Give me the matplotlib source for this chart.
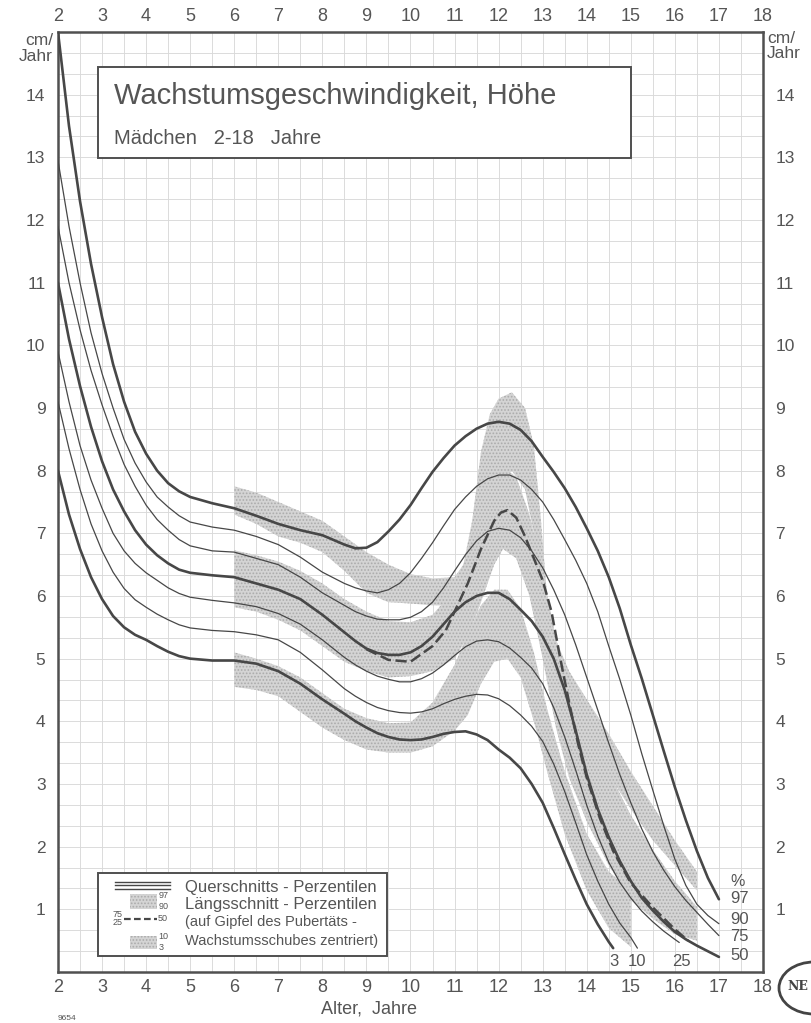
import numpy as np
import matplotlib
matplotlib.use("Agg")
import matplotlib.pyplot as plt
from matplotlib.patches import Rectangle, Ellipse

# Querschnitts-Perzentilen (cm/Jahr)
AGES = [2, 2.25, 2.5, 2.75, 3, 3.25, 3.5, 3.75, 4, 4.25, 4.5, 4.75, 5, 5.5, 6, 6.5, 7,
        7.5, 8, 8.5, 8.75, 9, 9.25, 9.5, 9.75, 10, 10.25, 10.5, 10.75, 11, 11.25, 11.5,
        11.75, 12, 12.25, 12.5, 12.75, 13, 13.25, 13.5, 13.75, 14, 14.25, 14.5, 14.75,
        15, 15.25, 15.5, 15.75, 16, 16.25, 16.5, 16.75, 17]

p97 = [15.0, 13.5, 12.3, 11.3, 10.45, 9.7, 9.1, 8.62, 8.27, 8.0, 7.8, 7.67, 7.58, 7.48,
       7.4, 7.28, 7.15, 7.05, 6.97, 6.82, 6.76, 6.77, 6.86, 7.03, 7.22, 7.45, 7.72, 7.98,
       8.2, 8.4, 8.55, 8.67, 8.75, 8.78, 8.75, 8.65, 8.47, 8.22, 7.98, 7.72, 7.42, 7.08,
       6.72, 6.3, 5.8, 5.22, 4.68, 4.1, 3.52, 2.95, 2.42, 1.93, 1.5, 1.16]
p90 = [12.95, 11.9, 11.0, 10.2, 9.55, 9.0, 8.5, 8.12, 7.82, 7.58, 7.42, 7.28, 7.18, 7.1,
       7.05, 6.95, 6.82, 6.62, 6.38, 6.2, 6.13, 6.08, 6.05, 6.1, 6.2, 6.37, 6.6, 6.85,
       7.12, 7.38, 7.58, 7.75, 7.87, 7.93, 7.93, 7.85, 7.7, 7.5, 7.22, 6.9, 6.57, 6.2,
       5.75, 5.2, 4.67, 4.1, 3.48, 2.9, 2.33, 1.8, 1.38, 1.08, 0.9, 0.77]
p75 = [11.9, 11.0, 10.25, 9.6, 9.05, 8.55, 8.1, 7.75, 7.45, 7.22, 7.05, 6.9, 6.8, 6.72,
       6.7, 6.6, 6.5, 6.3, 6.05, 5.85, 5.75, 5.68, 5.63, 5.62, 5.62, 5.66, 5.75, 5.9,
       6.13, 6.4, 6.66, 6.88, 7.03, 7.08, 7.05, 6.93, 6.72, 6.45, 6.1, 5.7, 5.22, 4.7,
       4.18, 3.65, 3.15, 2.7, 2.28, 1.92, 1.62, 1.36, 1.14, 0.95, 0.76, 0.58]
p50 = [11.0, 10.1, 9.35, 8.7, 8.15, 7.7, 7.35, 7.05, 6.82, 6.65, 6.52, 6.42, 6.37, 6.33,
       6.3, 6.2, 6.1, 5.95, 5.7, 5.42, 5.28, 5.16, 5.09, 5.06, 5.06, 5.1, 5.2, 5.35,
       5.55, 5.75, 5.9, 6.0, 6.05, 6.05, 5.95, 5.78, 5.6, 5.35, 5.0, 4.5, 3.85, 3.15,
       2.6, 2.15, 1.77, 1.45, 1.18, 0.98, 0.8, 0.64, 0.52, 0.42, 0.33, 0.24]
p25_end = (16.1, 0.47)
p25 = [9.9, 9.1, 8.4, 7.85, 7.4, 7.0, 6.72, 6.52, 6.37, 6.25, 6.13, 6.04, 5.98, 5.93,
       5.89, 5.83, 5.72, 5.55, 5.3, 5.02, 4.9, 4.8, 4.72, 4.67, 4.63, 4.63, 4.68, 4.77,
       4.9, 5.05, 5.19, 5.28, 5.3, 5.27, 5.17, 5.02, 4.85, 4.6, 4.22, 3.75, 3.22, 2.66,
       2.17, 1.75, 1.43, 1.18, 0.97, 0.8, 0.65, 0.52]
p10_end = (15.15, 0.38)
p10 = [9.1, 8.35, 7.7, 7.15, 6.72, 6.38, 6.12, 5.94, 5.82, 5.71, 5.62, 5.54, 5.49, 5.45,
       5.43, 5.38, 5.3, 5.1, 4.82, 4.52, 4.4, 4.3, 4.22, 4.17, 4.14, 4.13, 4.15, 4.2,
       4.28, 4.35, 4.4, 4.43, 4.42, 4.36, 4.25, 4.1, 3.92, 3.68, 3.32, 2.88, 2.38, 1.87,
       1.45, 1.08, 0.78, 0.55]
p3_end = (14.6, 0.38)
p3 = [8.0, 7.3, 6.75, 6.3, 5.95, 5.68, 5.5, 5.38, 5.3, 5.2, 5.11, 5.04, 5.0, 4.97, 4.97,
      4.92, 4.8, 4.6, 4.35, 4.12, 4.0, 3.9, 3.81, 3.75, 3.71, 3.7, 3.71, 3.75, 3.8, 3.83,
      3.84, 3.79, 3.7, 3.55, 3.42, 3.25, 3.0, 2.7, 2.3, 1.88, 1.47, 1.08, 0.76, 0.48]

# Laengsschnitt 50. Perzentile (gestrichelt)
long50_age = [9.0, 9.5, 10.0, 10.5, 10.8, 11.0, 11.3, 11.6, 11.9, 12.05, 12.2, 12.4, 12.6,
              12.8, 13.0, 13.2, 13.4, 13.6, 13.8, 14.0, 14.3, 14.6, 15.0, 15.5, 16.0, 16.3]
long50 = [5.15, 4.98, 4.95, 5.2, 5.45, 5.75, 6.2, 6.75, 7.2, 7.33, 7.37, 7.25, 6.95, 6.6,
          6.25, 5.75, 5.0, 4.3, 3.65, 3.1, 2.45, 1.93, 1.42, 1.03, 0.68, 0.5]

# Laengsschnitt-Baender (gepunktet): 97-90, 75-25, 10-3
band_hi_age = [6.0, 6.5, 7.0, 7.5, 8.0, 8.5, 9.0, 9.5, 10.0, 10.5, 11.0, 11.2, 11.4, 11.6,
               11.8, 12.0, 12.3, 12.6, 12.8, 12.95, 13.1, 13.3, 13.6, 14.0, 14.5, 15.0,
               15.5, 16.0, 16.5]
band_hi_top = [7.75, 7.65, 7.5, 7.35, 7.2, 6.95, 6.7, 6.5, 6.35, 6.28, 6.3, 6.5, 7.2, 8.3,
               8.9, 9.15, 9.25, 9.0, 8.4, 7.3, 6.0, 5.3, 4.8, 4.35, 3.8, 3.2, 2.65, 2.1, 1.6]
band_hi_bot = [7.3, 7.15, 6.95, 6.85, 6.7, 6.4, 6.05, 5.9, 5.88, 5.85, 5.85, 5.9, 6.1, 6.6,
               7.3, 7.8, 8.0, 7.7, 7.0, 6.0, 5.0, 4.5, 4.1, 3.7, 3.15, 2.6, 2.1, 1.7, 1.3]

band_mid_age = [6.0, 6.5, 7.0, 7.5, 8.0, 8.5, 9.0, 9.5, 10.0, 10.5, 11.0, 11.3, 11.6, 11.9,
                12.1, 12.4, 12.7, 13.0, 13.3, 13.6, 14.0, 14.5, 15.0, 15.5, 16.0, 16.5]
band_mid_top = [6.73, 6.65, 6.55, 6.4, 6.2, 5.95, 5.75, 5.6, 5.58, 5.7, 6.1, 6.7, 7.4, 7.95,
                8.06, 7.9, 7.3, 6.4, 5.3, 4.6, 3.95, 3.2, 2.5, 1.95, 1.45, 1.04]
band_mid_bot = [5.82, 5.75, 5.62, 5.45, 5.2, 4.95, 4.8, 4.7, 4.72, 4.8, 5.0, 5.35, 5.9, 6.5,
                6.75, 6.6, 6.0, 5.0, 3.9, 3.1, 2.4, 1.7, 1.15, 0.85, 0.6, 0.5]

band_lo_age = [6.0, 6.5, 7.0, 7.5, 8.0, 8.5, 9.0, 9.5, 10.0, 10.5, 11.0, 11.3, 11.6, 11.9,
               12.2, 12.5, 12.8, 13.1, 13.5, 14.0, 14.5, 15.0]
band_lo_top = [5.1, 5.0, 4.88, 4.7, 4.45, 4.2, 4.05, 3.97, 3.98, 4.3, 4.9, 5.4, 5.85, 6.1,
               6.1, 5.8, 5.1, 4.2, 3.2, 2.2, 1.6, 1.3]
band_lo_bot = [4.55, 4.5, 4.4, 4.15, 3.9, 3.7, 3.55, 3.5, 3.5, 3.6, 3.85, 4.1, 4.6, 4.95,
               5.0, 4.7, 4.0, 3.2, 2.2, 1.3, 0.7, 0.4]

X_TICKS = list(range(2, 19))
Y_TICKS = list(range(1, 15))

INK = '#474747'
TXT = '#555555'
GRID = '#d9d9d9'
STIPPLE = '#d4d4d4'
DOTS = '#ababab'

plt.rcParams['font.family'] = ['Liberation Sans', 'DejaVu Sans']
plt.rcParams['hatch.linewidth'] = 0.8
plt.rcParams['hatch.color'] = DOTS


def curve(ax, vals, end=None, lw=0.9):
    xs = AGES[:len(vals)]
    ys = list(vals)
    if end is not None:
        xs = xs + [end[0]]
        ys = ys + [end[1]]
    ax.plot(xs, ys, color=INK, lw=lw, zorder=4, solid_joinstyle='round',
            solid_capstyle='round')


fig = plt.figure(figsize=(8.11, 10.23), dpi=100)
ax = fig.add_axes([0.0715, 0.0499, 0.8693, 0.9188])
ax.set_xlim(2, 18)
ax.set_ylim(0, 15)

# grid: half years, thirds of cm
ax.set_xticks(X_TICKS)
ax.set_xticks(np.arange(2, 18.01, 0.5), minor=True)
ax.set_yticks(Y_TICKS)
ax.set_yticks(np.arange(0, 15.01, 1 / 3), minor=True)
ax.grid(True, which='both', color=GRID, lw=0.65, zorder=0)
ax.set_axisbelow(True)
ax.tick_params(which='both', length=0)
ax.tick_params(axis='x', labelsize=13, labelcolor=TXT, top=True, labeltop=True, pad=5)
ax.tick_params(axis='x', which='major', labeltop=True)
ax.tick_params(axis='y', labelsize=12.5, labelcolor=TXT, right=True, labelright=True, pad=9)
for lab in ax.get_xticklabels(which='major'):
    pass
for s in ax.spines.values():
    s.set_color('#505050')
    s.set_linewidth(1.8)

# stippled longitudinal bands
for bx, top, bot in [(band_hi_age, band_hi_top, band_hi_bot),
                     (band_mid_age, band_mid_top, band_mid_bot),
                     (band_lo_age, band_lo_top, band_lo_bot)]:
    ax.fill_between(bx, bot, top, facecolor=STIPPLE, edgecolor=DOTS,
                    hatch='.....', linewidth=0, zorder=1)

# cross-sectional percentiles (3, 50, 97 thick)
curve(ax, p97, lw=1.9)
curve(ax, p90)
curve(ax, p75)
curve(ax, p50, lw=1.9)
curve(ax, p25, end=p25_end)
curve(ax, p10, end=p10_end)
curve(ax, p3, end=p3_end, lw=1.9)
ax.plot(long50_age, long50, color=INK, lw=1.8, dashes=(4.5, 1.8), zorder=5)

# percentile labels
ax.text(17.43, 1.44, '%', fontsize=11.5, color=TXT, ha='center', va='center')
for lab, yy in [('97', 1.18), ('90', 0.83), ('75', 0.56), ('50', 0.26)]:
    ax.text(17.25, yy, lab, fontsize=12, color=TXT, ha='left', va='center')
for lab, xx in [('3', 14.62), ('10', 15.14), ('25', 16.14)]:
    ax.text(xx, 0.17, lab, fontsize=12, color=TXT, ha='center', va='center')

# unit labels
ax.text(1.89, 14.74, 'cm/\nJahr', fontsize=12.5, color=TXT, ha='right', va='center',
        linespacing=1.05)
ax.text(18.09, 14.78, 'cm/\nJahr', fontsize=12.5, color=TXT, ha='left', va='center',
        linespacing=1.05)

# title box
ax.add_patch(Rectangle((2.9, 12.99), 12.1, 1.45, facecolor='white',
                       edgecolor='#505050', lw=1.4, zorder=6))
ax.text(3.27, 13.98, 'Wachstumsgeschwindigkeit, Höhe', fontsize=21, color=TXT,
        va='center', ha='left', zorder=7)
ax.text(3.27, 13.3, 'Mädchen   2-18   Jahre', fontsize=14.5, color=TXT,
        va='center', ha='left', zorder=7)

# legend box
ax.add_patch(Rectangle((2.9, 0.26), 6.57, 1.32, facecolor='white',
                       edgecolor='#505050', lw=1.4, zorder=6))
for yy in [1.44, 1.38, 1.32]:
    ax.plot([3.29, 4.54], [yy, yy], color=INK, lw=1.0, zorder=7)
ax.text(4.88, 1.35, 'Querschnitts - Perzentilen', fontsize=12, color=TXT,
        va='center', ha='left', zorder=7)
ax.add_patch(Rectangle((3.63, 1.01), 0.62, 0.23, facecolor=STIPPLE, edgecolor=DOTS,
                       hatch='.....', lw=0, zorder=7))
ax.text(4.28, 1.22, '97', fontsize=6.5, color=TXT, va='center', ha='left', zorder=7)
ax.text(4.28, 1.04, '90', fontsize=6.5, color=TXT, va='center', ha='left', zorder=7)
ax.text(4.88, 1.07, 'Längsschnitt - Perzentilen', fontsize=12, color=TXT,
        va='center', ha='left', zorder=7)
ax.plot([3.5, 4.24], [0.85, 0.85], color=INK, lw=1.6, dashes=(3, 1.5), zorder=7)
ax.text(3.47, 0.91, '75', fontsize=6.5, color=TXT, va='center', ha='right', zorder=7)
ax.text(3.47, 0.79, '25', fontsize=6.5, color=TXT, va='center', ha='right', zorder=7)
ax.text(4.26, 0.85, '50', fontsize=6.5, color=TXT, va='center', ha='left', zorder=7)
ax.text(4.88, 0.79, '(auf Gipfel des Pubertäts -', fontsize=10.5, color=TXT,
        va='center', ha='left', zorder=7)
ax.add_patch(Rectangle((3.63, 0.36), 0.62, 0.22, facecolor=STIPPLE, edgecolor=DOTS,
                       hatch='.....', lw=0, zorder=7))
ax.text(4.28, 0.56, '10', fontsize=6.5, color=TXT, va='center', ha='left', zorder=7)
ax.text(4.28, 0.39, '3', fontsize=6.5, color=TXT, va='center', ha='left', zorder=7)
ax.text(4.88, 0.5, 'Wachstumsschubes zentriert)', fontsize=10.5, color=TXT,
        va='center', ha='left', zorder=7)

# axis title and small print
fig.text(369 / 811, 1 - 1009 / 1023, 'Alter,  Jahre', fontsize=13, color=TXT,
         ha='center', va='center')
fig.text(58 / 811, 1 - 1018 / 1023, '9654', fontsize=6, color=TXT, ha='left', va='center')

# publisher mark (cut at the page edge)
fig.add_artist(Ellipse((814 / 811, 1 - 988 / 1023), 70 / 811, 52 / 1023,
                       transform=fig.transFigure, fill=False, ec='#444444', lw=2))
fig.text(787 / 811, 1 - 987 / 1023, 'NE', fontsize=9, family='DejaVu Serif',
         weight='bold', color='#444444', ha='left', va='center')

fig.savefig('out.png', dpi=100)
